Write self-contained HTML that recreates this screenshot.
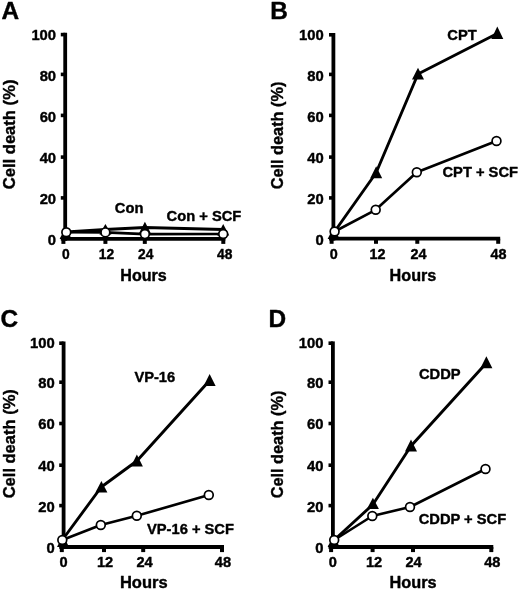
<!DOCTYPE html>
<html lang="en">
<head>
<meta charset="utf-8">
<title>Cell death time course</title>
<style>
html,body{margin:0;padding:0;background:#fff;}
body{width:520px;height:590px;overflow:hidden;}
svg{display:block;filter:blur(0.45px);}
svg text{font-family:"Liberation Sans", Arial, Helvetica, sans-serif;font-weight:bold;fill:#000;stroke:#000;stroke-width:0.4px;stroke-linejoin:round;}
</style>
</head>
<body>
<svg width="520" height="590" viewBox="0 0 520 590">
<rect width="520" height="590" fill="#fff"/>
<line x1="65.2" y1="32.80" x2="65.2" y2="240.70" stroke="#000" stroke-width="3.8"/>
<line x1="63.30" y1="238.8" x2="225.30" y2="238.8" stroke="#000" stroke-width="3.8"/>
<line x1="60.80" y1="238.8" x2="65.2" y2="238.8" stroke="#000" stroke-width="3.6"/>
<text x="56.1" y="245.40" font-size="14.8" text-anchor="end">0</text>
<line x1="60.80" y1="197.9" x2="65.2" y2="197.9" stroke="#000" stroke-width="3.6"/>
<text x="56.1" y="204.20" font-size="14.8" text-anchor="end">20</text>
<line x1="60.80" y1="157.1" x2="65.2" y2="157.1" stroke="#000" stroke-width="3.6"/>
<text x="56.1" y="163.10" font-size="14.8" text-anchor="end">40</text>
<line x1="60.80" y1="115.4" x2="65.2" y2="115.4" stroke="#000" stroke-width="3.6"/>
<text x="56.1" y="122.00" font-size="14.8" text-anchor="end">60</text>
<line x1="60.80" y1="74.4" x2="65.2" y2="74.4" stroke="#000" stroke-width="3.6"/>
<text x="56.1" y="80.80" font-size="14.8" text-anchor="end">80</text>
<line x1="60.80" y1="34.6" x2="65.2" y2="34.6" stroke="#000" stroke-width="3.6"/>
<text x="56.1" y="39.70" font-size="14.8" text-anchor="end">100</text>
<line x1="63.400000000000006" y1="238.8" x2="63.400000000000006" y2="243.90" stroke="#000" stroke-width="4.0"/>
<text x="65.8" y="258.9" font-size="13.8" text-anchor="middle">0</text>
<line x1="105.4" y1="238.8" x2="105.4" y2="243.90" stroke="#000" stroke-width="4.0"/>
<text x="106.5" y="258.9" font-size="13.8" text-anchor="middle">12</text>
<line x1="144.8" y1="238.8" x2="144.8" y2="243.90" stroke="#000" stroke-width="4.0"/>
<text x="145.8" y="258.9" font-size="13.8" text-anchor="middle">24</text>
<line x1="223.3" y1="238.8" x2="223.3" y2="243.90" stroke="#000" stroke-width="4.0"/>
<text x="224.7" y="258.9" font-size="13.8" text-anchor="middle">48</text>
<text x="120.3" y="281" font-size="16.1">Hours</text>
<text transform="translate(15.1,189.3) rotate(-90)" font-size="16.6">Cell death (%)</text>
<text x="1.5" y="19" font-size="24.4">A</text>
<polyline points="66.3,232.0 105.4,229.5 144.9,227.5 223.2,229.5" fill="none" stroke="#000" stroke-width="2.9" stroke-linejoin="round"/>
<polygon points="65.6,227.0 59.6,239.0 71.6,239.0" fill="#000"/>
<polygon points="105.4,224.0 99.4,234.5 111.4,234.5" fill="#000"/>
<polygon points="144.9,221.8 138.9,233.5 150.9,233.5" fill="#000"/>
<polygon points="223.2,224.1 217.2,235.5 229.2,235.5" fill="#000"/>
<polyline points="66.3,232.2 105.4,232.4 144.9,234.1 223.2,234.0" fill="none" stroke="#000" stroke-width="2.65" stroke-linejoin="round"/>
<circle cx="66.3" cy="232.2" r="4.4" fill="#fff" stroke="#000" stroke-width="1.7"/>
<circle cx="105.4" cy="232.4" r="4.4" fill="#fff" stroke="#000" stroke-width="1.7"/>
<circle cx="144.9" cy="234.1" r="4.4" fill="#fff" stroke="#000" stroke-width="1.7"/>
<circle cx="223.2" cy="234.0" r="4.4" fill="#fff" stroke="#000" stroke-width="1.7"/>
<text x="114.8" y="212.8" font-size="14.7">Con</text>
<text x="166.6" y="221.1" font-size="14.7">Con + SCF</text>
<line x1="333.4" y1="33.00" x2="333.4" y2="240.60" stroke="#000" stroke-width="3.8"/>
<line x1="331.50" y1="238.7" x2="500.20" y2="238.7" stroke="#000" stroke-width="3.8"/>
<line x1="329.00" y1="238.7" x2="333.4" y2="238.7" stroke="#000" stroke-width="3.6"/>
<text x="323.8" y="245.30" font-size="14.8" text-anchor="end">0</text>
<line x1="329.00" y1="197.9" x2="333.4" y2="197.9" stroke="#000" stroke-width="3.6"/>
<text x="323.8" y="204.20" font-size="14.8" text-anchor="end">20</text>
<line x1="329.00" y1="157.1" x2="333.4" y2="157.1" stroke="#000" stroke-width="3.6"/>
<text x="323.8" y="163.10" font-size="14.8" text-anchor="end">40</text>
<line x1="329.00" y1="115.4" x2="333.4" y2="115.4" stroke="#000" stroke-width="3.6"/>
<text x="323.8" y="122.00" font-size="14.8" text-anchor="end">60</text>
<line x1="329.00" y1="74.4" x2="333.4" y2="74.4" stroke="#000" stroke-width="3.6"/>
<text x="323.8" y="80.80" font-size="14.8" text-anchor="end">80</text>
<line x1="329.00" y1="34.8" x2="333.4" y2="34.8" stroke="#000" stroke-width="3.6"/>
<text x="323.8" y="39.90" font-size="14.8" text-anchor="end">100</text>
<line x1="331.59999999999997" y1="238.7" x2="331.59999999999997" y2="243.80" stroke="#000" stroke-width="4.0"/>
<text x="333.7" y="259.1" font-size="14.4" text-anchor="middle">0</text>
<line x1="376.0" y1="238.7" x2="376.0" y2="243.80" stroke="#000" stroke-width="4.0"/>
<text x="377.5" y="259.1" font-size="14.4" text-anchor="middle">12</text>
<line x1="417.3" y1="238.7" x2="417.3" y2="243.80" stroke="#000" stroke-width="4.0"/>
<text x="418.5" y="259.1" font-size="14.4" text-anchor="middle">24</text>
<line x1="498.2" y1="238.7" x2="498.2" y2="243.80" stroke="#000" stroke-width="4.0"/>
<text x="498.4" y="259.1" font-size="14.4" text-anchor="middle">48</text>
<text x="389.6" y="281" font-size="16.2">Hours</text>
<text transform="translate(283.1,189.3) rotate(-90)" font-size="16.3">Cell death (%)</text>
<text x="270.3" y="19" font-size="24.4">B</text>
<polyline points="334.6,231.5 376.0,173.0 418.0,74.0 497.3,33.5" fill="none" stroke="#000" stroke-width="2.9" stroke-linejoin="round"/>
<polygon points="333.6,227.0 327.6,239.0 339.6,239.0" fill="#000"/>
<polygon points="376.2,166.3 370.2,178.3 382.2,178.3" fill="#000"/>
<polygon points="418.0,67.8 412.0,79.5 424.0,79.5" fill="#000"/>
<polygon points="497.3,26.5 491.3,39.1 503.3,39.1" fill="#000"/>
<polyline points="334.6,231.5 375.7,209.8 416.8,172.3 496.5,141.0" fill="none" stroke="#000" stroke-width="2.65" stroke-linejoin="round"/>
<circle cx="334.6" cy="231.5" r="4.4" fill="#fff" stroke="#000" stroke-width="1.7"/>
<circle cx="375.7" cy="209.8" r="4.4" fill="#fff" stroke="#000" stroke-width="1.7"/>
<circle cx="416.8" cy="172.3" r="4.4" fill="#fff" stroke="#000" stroke-width="1.7"/>
<circle cx="496.5" cy="141.0" r="4.4" fill="#fff" stroke="#000" stroke-width="1.7"/>
<text x="447.3" y="39.8" font-size="14.7">CPT</text>
<text x="442.5" y="176.8" font-size="14.7">CPT + SCF</text>
<line x1="63.6" y1="341.40" x2="63.6" y2="548.90" stroke="#000" stroke-width="3.8"/>
<line x1="61.70" y1="547.0" x2="224.00" y2="547.0" stroke="#000" stroke-width="3.8"/>
<line x1="59.20" y1="547.0" x2="63.6" y2="547.0" stroke="#000" stroke-width="3.6"/>
<text x="54.8" y="553.40" font-size="14.8" text-anchor="end">0</text>
<line x1="59.20" y1="505.6" x2="63.6" y2="505.6" stroke="#000" stroke-width="3.6"/>
<text x="54.8" y="511.90" font-size="14.8" text-anchor="end">20</text>
<line x1="59.20" y1="465.2" x2="63.6" y2="465.2" stroke="#000" stroke-width="3.6"/>
<text x="54.8" y="470.90" font-size="14.8" text-anchor="end">40</text>
<line x1="59.20" y1="423.5" x2="63.6" y2="423.5" stroke="#000" stroke-width="3.6"/>
<text x="54.8" y="429.30" font-size="14.8" text-anchor="end">60</text>
<line x1="59.20" y1="382.2" x2="63.6" y2="382.2" stroke="#000" stroke-width="3.6"/>
<text x="54.8" y="388.00" font-size="14.8" text-anchor="end">80</text>
<line x1="59.20" y1="343.2" x2="63.6" y2="343.2" stroke="#000" stroke-width="3.6"/>
<text x="54.8" y="348.30" font-size="14.8" text-anchor="end">100</text>
<line x1="61.800000000000004" y1="547.0" x2="61.800000000000004" y2="552.10" stroke="#000" stroke-width="4.0"/>
<text x="63.5" y="567.3" font-size="14.6" text-anchor="middle">0</text>
<line x1="104.0" y1="547.0" x2="104.0" y2="552.10" stroke="#000" stroke-width="4.0"/>
<text x="105" y="567.3" font-size="14.6" text-anchor="middle">12</text>
<line x1="143.2" y1="547.0" x2="143.2" y2="552.10" stroke="#000" stroke-width="4.0"/>
<text x="144.5" y="567.3" font-size="14.6" text-anchor="middle">24</text>
<line x1="222.0" y1="547.0" x2="222.0" y2="552.10" stroke="#000" stroke-width="4.0"/>
<text x="222.9" y="567.3" font-size="14.6" text-anchor="middle">48</text>
<text x="119.9" y="588.2" font-size="16.5">Hours</text>
<text transform="translate(14.5,498.3) rotate(-90)" font-size="16.5">Cell death (%)</text>
<text x="0.4" y="327.0" font-size="24.4">C</text>
<polyline points="62.3,540.0 101.3,487.0 136.8,461.0 209.6,380.5" fill="none" stroke="#000" stroke-width="2.9" stroke-linejoin="round"/>
<polygon points="63.0,535.0 57.0,547.0 69.0,547.0" fill="#000"/>
<polygon points="101.4,481.0 95.4,492.5 107.4,492.5" fill="#000"/>
<polygon points="136.9,454.5 130.9,466.5 142.9,466.5" fill="#000"/>
<polygon points="209.6,374.0 203.6,386.0 215.6,386.0" fill="#000"/>
<polyline points="62.3,540.0 100.8,525.0 136.8,515.8 208.8,495.0" fill="none" stroke="#000" stroke-width="2.65" stroke-linejoin="round"/>
<circle cx="62.3" cy="540.0" r="4.4" fill="#fff" stroke="#000" stroke-width="1.7"/>
<circle cx="100.8" cy="525.0" r="4.4" fill="#fff" stroke="#000" stroke-width="1.7"/>
<circle cx="136.8" cy="515.8" r="4.4" fill="#fff" stroke="#000" stroke-width="1.7"/>
<circle cx="208.8" cy="495.0" r="4.4" fill="#fff" stroke="#000" stroke-width="1.7"/>
<text x="134.4" y="382.2" font-size="14.7">VP-16</text>
<text x="147" y="534.4" font-size="14.7">VP-16 + SCF</text>
<line x1="332.9" y1="341.40" x2="332.9" y2="548.90" stroke="#000" stroke-width="3.8"/>
<line x1="331.00" y1="547.0" x2="493.30" y2="547.0" stroke="#000" stroke-width="3.8"/>
<line x1="328.50" y1="547.0" x2="332.9" y2="547.0" stroke="#000" stroke-width="3.6"/>
<text x="323.5" y="553.40" font-size="14.8" text-anchor="end">0</text>
<line x1="328.50" y1="505.6" x2="332.9" y2="505.6" stroke="#000" stroke-width="3.6"/>
<text x="323.5" y="511.90" font-size="14.8" text-anchor="end">20</text>
<line x1="328.50" y1="465.2" x2="332.9" y2="465.2" stroke="#000" stroke-width="3.6"/>
<text x="323.5" y="470.90" font-size="14.8" text-anchor="end">40</text>
<line x1="328.50" y1="423.5" x2="332.9" y2="423.5" stroke="#000" stroke-width="3.6"/>
<text x="323.5" y="429.30" font-size="14.8" text-anchor="end">60</text>
<line x1="328.50" y1="382.2" x2="332.9" y2="382.2" stroke="#000" stroke-width="3.6"/>
<text x="323.5" y="388.00" font-size="14.8" text-anchor="end">80</text>
<line x1="328.50" y1="343.2" x2="332.9" y2="343.2" stroke="#000" stroke-width="3.6"/>
<text x="323.5" y="348.30" font-size="14.8" text-anchor="end">100</text>
<line x1="331.09999999999997" y1="547.0" x2="331.09999999999997" y2="552.10" stroke="#000" stroke-width="4.0"/>
<text x="332.9" y="567.3" font-size="14.6" text-anchor="middle">0</text>
<line x1="372.6" y1="547.0" x2="372.6" y2="552.10" stroke="#000" stroke-width="4.0"/>
<text x="374" y="567.3" font-size="14.6" text-anchor="middle">12</text>
<line x1="413.0" y1="547.0" x2="413.0" y2="552.10" stroke="#000" stroke-width="4.0"/>
<text x="413.6" y="567.3" font-size="14.6" text-anchor="middle">24</text>
<line x1="491.3" y1="547.0" x2="491.3" y2="552.10" stroke="#000" stroke-width="4.0"/>
<text x="492.3" y="567.3" font-size="14.6" text-anchor="middle">48</text>
<text x="389.6" y="588.2" font-size="16.3">Hours</text>
<text transform="translate(282.6,498.3) rotate(-90)" font-size="16.3">Cell death (%)</text>
<text x="268.6" y="327.1" font-size="24.4">D</text>
<polyline points="334.2,540.0 372.9,504.5 411.0,446.0 486.4,363.0" fill="none" stroke="#000" stroke-width="2.9" stroke-linejoin="round"/>
<polygon points="333.6,535.0 327.6,547.0 339.6,547.0" fill="#000"/>
<polygon points="372.9,497.8 366.9,509.0 378.9,509.0" fill="#000"/>
<polygon points="411.0,439.5 405.0,451.5 417.0,451.5" fill="#000"/>
<polygon points="486.4,356.3 480.4,368.3 492.4,368.3" fill="#000"/>
<polyline points="334.2,540.0 372.3,516.0 410.0,507.0 485.5,469.0" fill="none" stroke="#000" stroke-width="2.65" stroke-linejoin="round"/>
<circle cx="334.2" cy="540.0" r="4.4" fill="#fff" stroke="#000" stroke-width="1.7"/>
<circle cx="372.3" cy="516.0" r="4.4" fill="#fff" stroke="#000" stroke-width="1.7"/>
<circle cx="410.0" cy="507.0" r="4.4" fill="#fff" stroke="#000" stroke-width="1.7"/>
<circle cx="485.5" cy="469.0" r="4.4" fill="#fff" stroke="#000" stroke-width="1.7"/>
<text x="419" y="379" font-size="14.7">CDDP</text>
<text x="418.7" y="524.4" font-size="14.7">CDDP + SCF</text>
</svg>
</body>
</html>
